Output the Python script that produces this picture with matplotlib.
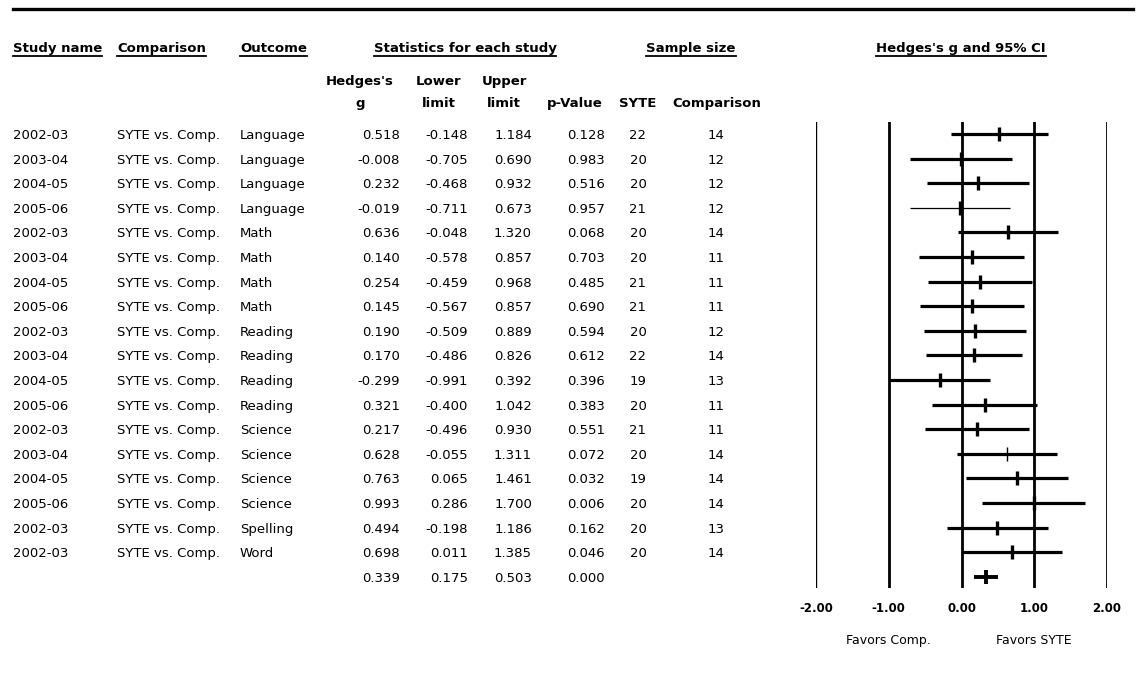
import matplotlib
matplotlib.use('Agg')
import matplotlib.pyplot as plt
from matplotlib.lines import Line2D
from matplotlib.transforms import blended_transform_factory

# table data
study = ['2002-03', '2003-04', '2004-05', '2005-06', '2002-03', '2003-04', '2004-05', '2005-06',
         '2002-03', '2003-04', '2004-05', '2005-06', '2002-03', '2003-04', '2004-05', '2005-06',
         '2002-03', '2002-03']
comparison = ['SYTE vs. Comp.'] * 18
outcome = ['Language'] * 4 + ['Math'] * 4 + ['Reading'] * 4 + ['Science'] * 4 + ['Spelling', 'Word']
hedges_g = [0.518, -0.008, 0.232, -0.019, 0.636, 0.140, 0.254, 0.145, 0.190, 0.170, -0.299, 0.321,
            0.217, 0.628, 0.763, 0.993, 0.494, 0.698]
lower = [-0.148, -0.705, -0.468, -0.711, -0.048, -0.578, -0.459, -0.567, -0.509, -0.486, -0.991,
         -0.400, -0.496, -0.055, 0.065, 0.286, -0.198, 0.011]
upper = [1.184, 0.690, 0.932, 0.673, 1.320, 0.857, 0.968, 0.857, 0.889, 0.826, 0.392, 1.042,
         0.930, 1.311, 1.461, 1.700, 1.186, 1.385]
p_value = [0.128, 0.983, 0.516, 0.957, 0.068, 0.703, 0.485, 0.690, 0.594, 0.612, 0.396, 0.383,
           0.551, 0.072, 0.032, 0.006, 0.162, 0.046]
n_syte = [22, 20, 20, 21, 20, 20, 21, 21, 20, 22, 19, 20, 21, 20, 19, 20, 20, 20]
n_comp = [14, 12, 12, 12, 14, 11, 11, 11, 12, 14, 13, 11, 11, 14, 14, 14, 13, 14]

summary = dict(g=0.339, lower=0.175, upper=0.503, p=0.000)
ticks = [-2, -1, 0, 1, 2]

# rows drawn with thin strokes in the original
thin_bar = {3}
thin_tick = {13}

W, H = 1138, 677
fig = plt.figure(figsize=(W / 100, H / 100), dpi=100)
plt.rcParams['font.family'] = ['DejaVu Sans']

# forest axes: x=-2..2 -> px 816..1107, rows span px 122..588
top_px, bot_px = 122, 588
row0_px, row_h = 134, 24.6
ax = fig.add_axes([816 / W, (H - bot_px) / H, 291 / W, (bot_px - top_px) / H])
ax.set_xlim(-2, 2)
ax.set_ylim((bot_px - row0_px) / row_h, -(row0_px - top_px) / row_h)
ax.axis('off')

for t in ticks:
    ax.axvline(t, color='black', lw=1.0 if t == -2 else 2.0, zorder=1)

n = len(hedges_g)
for i in range(n):
    ax.hlines(i, lower[i], upper[i], color='black', lw=0.9 if i in thin_bar else 2.3, zorder=2)
    ax.plot(hedges_g[i], i, marker='|', color='black', ms=9.5,
            mew=1.0 if i in thin_tick else 2.4, zorder=3)
ax.hlines(n, summary['lower'], summary['upper'], color='black', lw=2.8, zorder=2)
ax.plot(summary['g'], n, marker='|', color='black', ms=9.5, mew=2.8, zorder=3)

for t in ticks:
    ax.text(t, 19.3, f'{t:.2f}', ha='center', va='center', fontsize=8.5, fontweight='bold',
            clip_on=False)
ax.text(-1, 20.6, 'Favors Comp.', ha='center', va='center', fontsize=9, clip_on=False)
ax.text(1, 20.6, 'Favors SYTE', ha='center', va='center', fontsize=9, clip_on=False)

# table text: x in figure fraction, y in forest rows
tr = blended_transform_factory(fig.transFigure, ax.transData)
fs = 9.5


def put(xpx, y, s, ha='left', bold=False):
    return fig.text(xpx / W, y, s, transform=tr, ha=ha, va='center_baseline', fontsize=fs,
                    fontweight='bold' if bold else 'normal')


for i in range(n):
    put(13, i, study[i])
    put(117, i, comparison[i])
    put(240, i, outcome[i])
    put(400, i, f'{hedges_g[i]:.3f}', 'right')
    put(468, i, f'{lower[i]:.3f}', 'right')
    put(532, i, f'{upper[i]:.3f}', 'right')
    put(605, i, f'{p_value[i]:.3f}', 'right')
    put(638, i, str(n_syte[i]), 'center')
    put(716, i, str(n_comp[i]), 'center')
put(400, n, f"{summary['g']:.3f}", 'right')
put(468, n, f"{summary['lower']:.3f}", 'right')
put(532, n, f"{summary['upper']:.3f}", 'right')
put(605, n, f"{summary['p']:.3f}", 'right')

y_head = (47 - row0_px) / row_h
y_sub1 = (80 - row0_px) / row_h
y_sub2 = (102 - row0_px) / row_h
underlined = [
    put(13, y_head, 'Study name', bold=True),
    put(117, y_head, 'Comparison', bold=True),
    put(240, y_head, 'Outcome', bold=True),
    put(465, y_head, 'Statistics for each study', 'center', True),
    put(691, y_head, 'Sample size', 'center', True),
    put(961, y_head, "Hedges's g and 95% CI", 'center', True),
]
put(360, y_sub1, "Hedges's", 'center', True)
put(360, y_sub2, 'g', 'center', True)
put(439, y_sub1, 'Lower', 'center', True)
put(439, y_sub2, 'limit', 'center', True)
put(504, y_sub1, 'Upper', 'center', True)
put(504, y_sub2, 'limit', 'center', True)
put(575, y_sub2, 'p-Value', 'center', True)
put(638, y_sub2, 'SYTE', 'center', True)
put(717, y_sub2, 'Comparison', 'center', True)

# top rule
fig.add_artist(Line2D([13 / W, 1133 / W], [1 - 9 / H, 1 - 9 / H], transform=fig.transFigure,
                      color='black', lw=2.4))

# underline headers
fig.canvas.draw()
r = fig.canvas.get_renderer()
for t in underlined:
    bb = t.get_window_extent(r)
    yy = (bb.y0 - 1) / H
    fig.add_artist(Line2D([bb.x0 / W, bb.x1 / W], [yy, yy], transform=fig.transFigure,
                          color='black', lw=1.3))

fig.savefig('out.png', dpi=100)
